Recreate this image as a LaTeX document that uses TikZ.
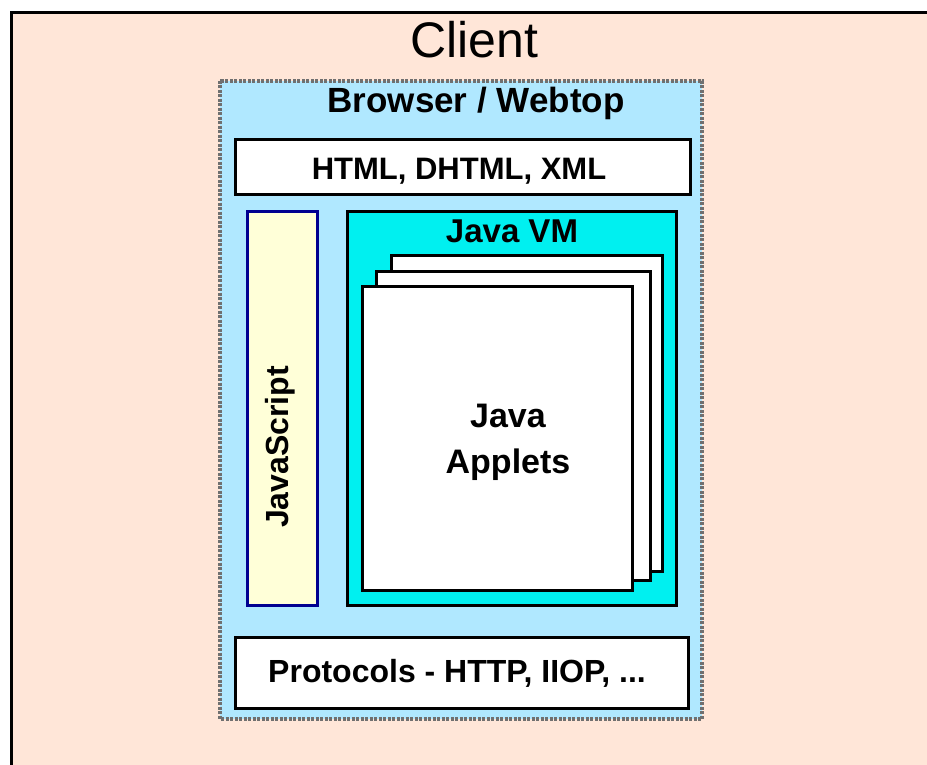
\documentclass[tikz,border=0pt]{standalone}
\usepackage{fontspec}
\setmainfont{Liberation Sans}
\definecolor{peach}{HTML}{FFE6D8}
\definecolor{lblue}{HTML}{B0E8FF}
\definecolor{vmcyan}{HTML}{00F0F0}
\definecolor{lyellow}{HTML}{FFFFD8}
\definecolor{navyb}{HTML}{000090}
\definecolor{dgray}{HTML}{707070}
\begin{document}
\begin{tikzpicture}[x=1pt,y=-1pt,
  box/.style={draw=black,line width=3pt,fill=white},
  lbl/.style={anchor=base,inner sep=0pt,font=\bfseries\fontsize{31}{34}\selectfont}]
\useasboundingbox (0,0) rectangle (927,765);
\fill[white] (0,0) rectangle (927,765);
\begin{scope}
\clip (0,0) rectangle (927,765);
\draw[line width=3pt,fill=peach] (11,13) rectangle (940,780);
\end{scope}
% Browser
\draw[dgray,line width=3.5pt,dash pattern=on 3pt off 1.5pt,fill=lblue] (220,81) rectangle (702,719);
\node[lbl,font=\bfseries\fontsize{35}{38}\selectfont] (browser) at (476,113) {Browser / Webtop};
% HTML
\draw[box] (235,140) rectangle (690,195);
\node[lbl] (html) at (459,179) {HTML, DHTML, XML};
% JavaScript
\draw[navyb,line width=3pt,fill=lyellow] (247,212) rectangle (317,605);
\node[lbl,rotate=90,font=\bfseries\fontsize{32}{36}\selectfont] (js) at (288,447) {JavaScript};
% Java VM
\draw[box,fill=vmcyan] (347,212) rectangle (676,605);
\node[lbl,font=\bfseries\fontsize{33}{36}\selectfont] (vm) at (512,243) {Java VM};
% pages
\draw[box] (391,255) rectangle (662,571);
\draw[box] (376,271) rectangle (650,580);
\draw[box] (362,286) rectangle (632,590);
\node[lbl,font=\bfseries\fontsize{34}{38}\selectfont] (java) at (508,427) {Java};
\node[lbl,font=\bfseries\fontsize{34}{38}\selectfont] (applets) at (508,473) {Applets};
% Protocols
\draw[box] (235,637) rectangle (688,708);
\node[lbl,font=\bfseries\fontsize{32}{36}\selectfont] (proto) at (457,682) {Protocols - HTTP, IIOP, ...};
% Client
\node[anchor=base,inner sep=0pt,font=\fontsize{50}{56}\selectfont] (client) at (474.5,58) {Client};
\end{tikzpicture}
\end{document}
